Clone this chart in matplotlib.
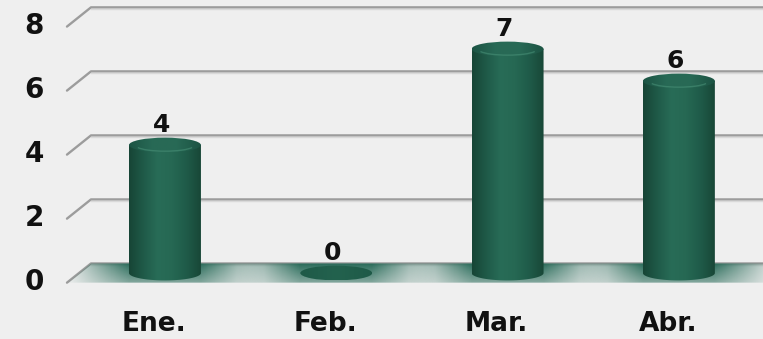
import numpy as np
import matplotlib.pyplot as plt
from matplotlib.colors import LinearSegmentedColormap
from matplotlib.patches import Ellipse, PathPatch, Arc
from matplotlib.path import Path

meses = ["Ene.", "Feb.", "Mar.", "Abr."]
valores = [4, 0, 7, 6]
ticks_y = [0, 2, 4, 6, 8]

fondo = "#efefef"
rejilla = "#9c9c9c"

# fake depth: back wall sits up/right of the bars, front edge down/left
dx, dy = 0.07, 0.30
radio = 0.21        # cylinder half width (x units)
elipse = 0.46       # ellipse full height (y units)

cmap_cil = LinearSegmentedColormap.from_list(
    "cil", ["#174536", "#1f5a48", "#286c57", "#266853", "#1f5b49", "#184737"])
cmap_tapa = LinearSegmentedColormap.from_list(
    "tapa", ["#1c5444", "#286a56", "#286955", "#1c5343"])
cmap_feb = LinearSegmentedColormap.from_list("feb", ["#1f5a48", "#23624e", "#1f5a48"])

fig = plt.figure(figsize=(7.63, 3.39), dpi=100)
fig.patch.set_facecolor(fondo)
ax = fig.add_axes([0, 0, 1, 1])
ax.set_facecolor(fondo)
ax.set_xlim(-0.963, 3.491)
ax.set_ylim(-2.06, 8.53)
ax.axis("off")

x_izq = -0.572
x_fin = 3.491

# gridlines: short diagonal then horizontal on the back wall
for v in ticks_y:
    ax.plot([x_izq, x_izq + 2 * dx, x_fin], [v - dy, v + dy, v + dy],
            color=rejilla, lw=1.7, solid_capstyle="round", zorder=1)
    ax.plot([x_izq + 2 * dx, x_fin], [v + dy - 0.06, v + dy - 0.06],
            color="#d9d9d9", lw=1.0, zorder=1)
    ax.text(x_izq - 0.19, v - dy + 0.02, str(v), ha="center", va="center",
            fontsize=20, fontweight="bold", color="#111111")

# floor shadow around each bar
piso = Path([(x_izq, -dy), (x_izq + 2 * dx, dy), (x_fin, dy), (x_fin, -dy), (x_izq, -dy)])
piso_patch = PathPatch(piso, facecolor="none", edgecolor="none")
ax.add_patch(piso_patch)
xs = np.linspace(-0.6, 0.6, 240)
ys = np.linspace(0, 1, 40)
XX, YY = np.meshgrid(xs, ys)
for i, v in enumerate(valores):
    a = np.clip(1 - (np.abs(XX) - radio) / (0.58 - radio), 0, 1)
    a = a * (0.55 + 0.45 * YY)
    rgba = np.zeros(XX.shape + (4,))
    rgba[..., 0] = 0x2a / 255
    rgba[..., 1] = 0x6c / 255
    rgba[..., 2] = 0x5a / 255
    rgba[..., 3] = a
    im = ax.imshow(rgba, extent=[i - 0.6, i + 0.6, -dy, dy], origin="lower",
                   aspect="auto", interpolation="bilinear", zorder=2)
    im.set_clip_path(piso_patch)

# cylinders
t = np.linspace(np.pi, 2 * np.pi, 60)
grad = np.linspace(0, 1, 256).reshape(1, -1)
for i, v in enumerate(valores):
    xc = i
    if v > 0:
        pts = [(xc - radio, v), (xc - radio, 0)]
        pts += [(xc + radio * np.cos(a), elipse / 2 * np.sin(a)) for a in t]
        pts += [(xc + radio, 0), (xc + radio, v), (xc - radio, v)]
        cuerpo = PathPatch(Path(pts), facecolor="none", edgecolor="none")
        ax.add_patch(cuerpo)
        im = ax.imshow(grad, cmap=cmap_cil, extent=[xc - radio, xc + radio, -elipse, v],
                       aspect="auto", zorder=3)
        im.set_clip_path(cuerpo)
    tapa = Ellipse((xc, v), 2 * radio, elipse, facecolor="none", edgecolor="none")
    ax.add_patch(tapa)
    im = ax.imshow(grad, cmap=cmap_tapa if v > 0 else cmap_feb,
                   extent=[xc - radio, xc + radio, v - elipse / 2, v + elipse / 2],
                   aspect="auto", zorder=4)
    im.set_clip_path(tapa)
    if v > 0:
        # soft highlight along the front rim of the cap
        ax.add_patch(Arc((xc, v - 0.02), 2 * radio * 0.8, elipse * 0.75,
                         theta1=200, theta2=340, edgecolor="#4a9379", lw=1.0,
                         alpha=0.55, zorder=5))
    ax.text(xc - 0.02, v + 0.63, str(v), ha="center", va="center",
            fontsize=18, fontweight="bold", color="#111111", zorder=6)
    ax.text(xc - 0.065, -1.6, meses[i], ha="center", va="center",
            fontsize=19, fontweight="bold", color="#111111")

fig.savefig("out.png", dpi=100, facecolor=fondo)
